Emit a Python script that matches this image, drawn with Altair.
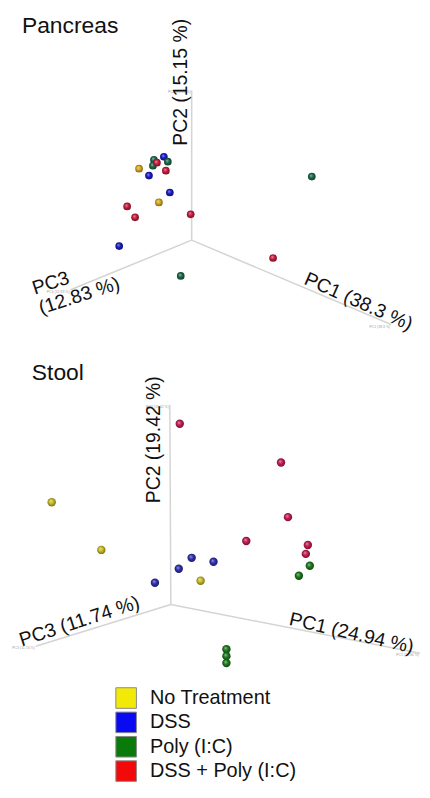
import altair as alt
import pandas as pd

# ---------------- data ----------------
groups = ["No Treatment", "DSS", "Poly (I:C)", "DSS + Poly (I:C)"]
legend_colors = ["#f2ea06", "#0a0af2", "#0a7a0a", "#f20a0a"]
panc_colors = ["#d6aa1e", "#1c1cc8", "#1d6a4a", "#c81e40"]
stool_colors = ["#c9bd26", "#3030b0", "#1d7a1d", "#c41e52"]

# Pancreas: projected PCoA coordinates (relative to axis origin)
panc_group = ["No Treatment", "No Treatment",
              "DSS", "DSS", "DSS", "DSS",
              "Poly (I:C)", "Poly (I:C)", "Poly (I:C)", "Poly (I:C)", "Poly (I:C)",
              "DSS + Poly (I:C)", "DSS + Poly (I:C)", "DSS + Poly (I:C)",
              "DSS + Poly (I:C)", "DSS + Poly (I:C)", "DSS + Poly (I:C)"]
panc_x = [-53, -33, -28, -43, -22, -73, -38, -39, -24, 121, -11, -35, -26, -65, -57, -1, 82]
panc_y = [72, 38, 84, 65, 48, -6, 81, 75, 79, 64, -36, 78, 70, 34, 23, 26, -18]
panc_axis_x = [201, 0, -122]
panc_axis_y = [-85, 151, -50]
panc_axis_labels = ["PC1 (38.3 %)", "PC2 (15.15 %)", "PC3 (12.83 %)"]

# Stool: projected PCoA coordinates (relative to axis origin)
stool_group = ["DSS + Poly (I:C)"] * 6 + ["No Treatment"] * 3 + ["DSS"] * 4 + ["Poly (I:C)"] * 5
stool_x = [9, 111, 118, 76, 138, 136, -120, -70, 30, 21, 43, 8, -16, 140, 129, 56, 56, 56]
stool_y = [182, 143, 88, 64, 60, 51, 103, 55, 24, 47, 43, 36, 22, 39, 29, -45, -52, -59]
stool_axis_x = [251, -1, -136]
stool_axis_y = [-49, 201, -42]
stool_axis_labels = ["PC1 (24.94 %)", "PC2 (19.42 %)", "PC3 (11.74 %)"]

FONT = "Liberation Sans"


def shade(c, f):
    r, g, b = int(c[1:3], 16), int(c[3:5], 16), int(c[5:7], 16)
    if f >= 0:
        r, g, b = [int(v + (255 - v) * f) for v in (r, g, b)]
    else:
        r, g, b = [int(v * (1 + f)) for v in (r, g, b)]
    return "#%02x%02x%02x" % (r, g, b)


def sphere(c):
    return alt.Gradient(
        gradient="radial",
        stops=[alt.GradientStop(color=shade(c, 0.55), offset=0),
               alt.GradientStop(color=c, offset=0.45),
               alt.GradientStop(color=shade(c, -0.45), offset=1)],
        x1=0.38, y1=0.34, r1=0, x2=0.5, y2=0.5, r2=0.55)


def panel(title, title_pos, grp, xs, ys, colors, ax_x, ax_y, labels, label_specs,
          xdom, ydom, w, h, size):
    pts = pd.DataFrame({"group": grp, "x": xs, "y": ys})
    axes = pd.DataFrame({"x": ax_x, "y": ax_y, "label": labels})
    xsc = alt.Scale(domain=xdom, nice=False, zero=False)
    ysc = alt.Scale(domain=ydom, nice=False, zero=False)
    X = alt.X("x:Q", scale=xsc, axis=None)
    Y = alt.Y("y:Q", scale=ysc, axis=None)

    rules = alt.Chart(axes).transform_calculate(ox="0", oy="0").mark_rule(
        color="#d4d4d4", strokeWidth=1.5
    ).encode(x=alt.X("ox:Q", scale=xsc, axis=None), y=alt.Y("oy:Q", scale=ysc, axis=None),
             x2="x:Q", y2="y:Q")

    # tiny end-of-axis captions (unreadable in the original), kept inside the view
    tiny = alt.Chart(axes).mark_text(
        font=FONT, fontSize=3.5, color="#a0a0a0", align="right", baseline="middle", dx=-1, dy=2
    ).encode(x=X, y=Y, text="label:N")

    layers = [rules, tiny]
    for g, c in zip(groups, colors):
        layers.append(
            alt.Chart(pts).transform_filter(alt.datum.group == g).mark_point(
                filled=True, fill=sphere(c), size=size, opacity=1, strokeWidth=0
            ).encode(x=X, y=Y)
        )

    tdf = pd.DataFrame({"x": [title_pos[0]], "y": [title_pos[1]]})
    layers.append(alt.Chart(tdf).mark_text(
        text=title, font=FONT, fontSize=23, align="left", baseline="alphabetic", color="#111"
    ).encode(x=X, y=Y))

    for txt, (lx, ly), ang, al, bl in label_specs:
        ldf = pd.DataFrame({"x": [lx], "y": [ly]})
        layers.append(alt.Chart(ldf).mark_text(
            text=txt, font=FONT, fontSize=19.5, angle=ang, align=al, baseline=bl,
            color="#111", lineHeight=21
        ).encode(x=X, y=Y))

    return alt.layer(*layers).properties(width=w, height=h)


panc = panel(
    "Pancreas", (-171, 209), panc_group, panc_x, panc_y, panc_colors,
    panc_axis_x, panc_axis_y, panc_axis_labels,
    [(panc_axis_labels[0], (168, -62), 24, "center", "middle"),
     (panc_axis_labels[1], (-11, 159), 270, "center", "middle"),
     (["PC3", "(12.83 %)"], (-158, -55), 342, "left", "alphabetic")],
    [-184, 230], [-110, 230], 414, 340, 60)

stool = panel(
    "Stool", (-140, 226), stool_group, stool_x, stool_y, stool_colors,
    stool_axis_x, stool_axis_y, stool_axis_labels,
    [(stool_axis_labels[0], (182, -29), 13, "center", "middle"),
     (stool_axis_labels[1], (-17, 166), 270, "center", "middle"),
     (stool_axis_labels[2], (-92, -17), 342, "center", "middle")],
    [-163, 251], [-77, 255], 414, 332, 72)

leg_df = pd.DataFrame({"group": groups, "color": legend_colors})
leg_y = alt.Y("group:N", sort=groups, axis=None,
              scale=alt.Scale(type="point", padding=0.62))
leg_sq = alt.Chart(leg_df).mark_square(size=430, stroke="#8a8a8a", strokeWidth=1, opacity=1).encode(
    x=alt.value(118), y=leg_y,
    fill=alt.Fill("color:N", scale=None))
leg_tx = alt.Chart(leg_df).mark_text(
    font=FONT, fontSize=20, align="left", baseline="middle", color="#111"
).encode(x=alt.value(142), y=leg_y, text="group:N")
legend = alt.layer(leg_sq, leg_tx).properties(width=414, height=104)

chart = alt.vconcat(panc, stool, legend, spacing=0).properties(padding=0).configure_view(
    stroke="transparent"
).configure_concat(spacing=0)

chart.save("out.html", embed_options={"renderer": "svg", "actions": False})
